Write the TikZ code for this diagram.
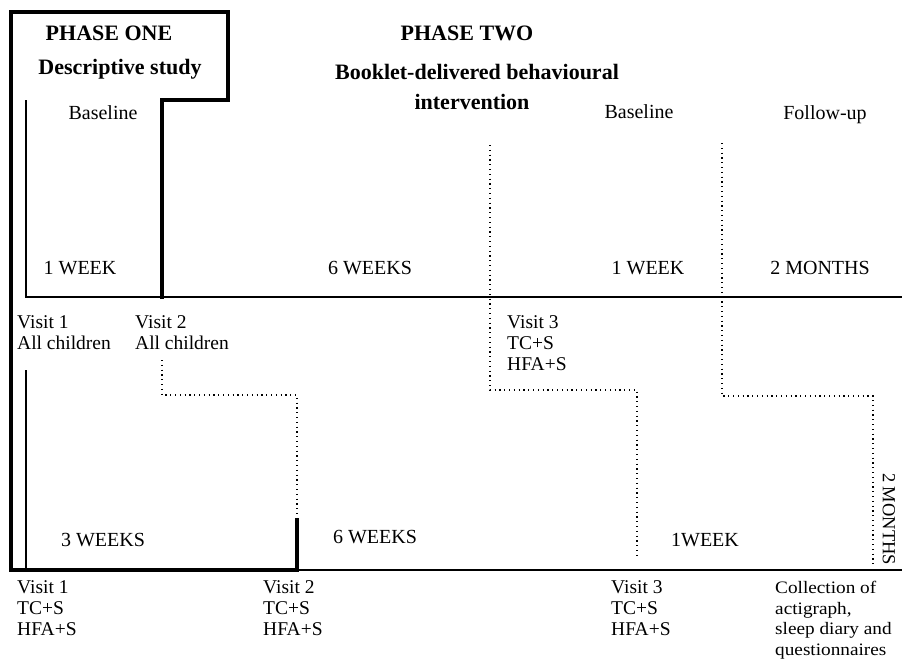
\documentclass[tikz,border=0pt]{standalone}
\usepackage{fontspec}
\setmainfont{Liberation Serif}
\newfontfamily\collfont[FakeStretch=1.1]{Liberation Serif}
\begin{document}
\begin{tikzpicture}[x=1pt,y=-1pt,
  thick line/.style={line width=3.2pt,line cap=rect},
  thin line/.style={line width=1.3pt},
  dot line/.style={line width=1.2pt,dash pattern=on 1.2pt off 3.6pt},
  head/.style={font=\fontsize{22}{26}\selectfont\bfseries,inner sep=0pt},
  lbl/.style={font=\fontsize{20}{21}\selectfont,inner sep=0pt},
  vis/.style={font=\fontsize{19.5}{21}\selectfont,inner sep=0pt,anchor=north west,align=left},
  coll/.style={font=\collfont\fontsize{17.5}{20.5}\selectfont,inner sep=0pt,anchor=north west,align=left}]
\useasboundingbox (0,0) rectangle (902,661);
% corners
\coordinate (tl) at (11,12);
\coordinate (tr) at (228,12);
\coordinate (sr) at (228,100);
\coordinate (sl) at (162,100);
\coordinate (v2top) at (162,297);
\coordinate (bl) at (11,570);
\coordinate (b2) at (297,570);
\coordinate (b2up) at (297,520);
\coordinate (a1) at (26,100);
\coordinate (a2) at (26,297);
\coordinate (tlend) at (902,297);
\coordinate (c1) at (26,370);
\coordinate (c2) at (26,570);
\coordinate (blend) at (902,570);
\coordinate (d1) at (490,145);
\coordinate (d2) at (490,390);
\coordinate (d3) at (637,390);
\coordinate (d4) at (637,556);
\coordinate (e1) at (722,143);
\coordinate (e2) at (722,396);
\coordinate (e3) at (873,396);
\coordinate (e4) at (873,565);
\coordinate (f1) at (162,360);
\coordinate (f2) at (162,395);
\coordinate (f3) at (297,395);
% phase one outline
\draw[thick line] (v2top) -- (sl) -- (sr) -- (tr) -- (tl) -- (bl) -- (b2) -- (b2up);
% timelines
\draw[thin line] (a1) -- (a2) -- (tlend);
\draw[thin line] (c1) -- (c2);
\draw[thin line] (b2) -- (blend);
% dotted steps
\draw[dot line] (d1) -- (d2) -- (d3) -- (d4);
\draw[dot line] (e1) -- (e2) -- (e3) -- (e4);
\draw[dot line] (f1) -- (f2) -- (f3) -- (b2up);
% headings
\node[head] (p1) at (109,33) {PHASE ONE};
\node[head] (p1s) at (120,69) {Descriptive study};
\node[head] (p2) at (467,33) {PHASE TWO};
\node[head] (p2s) at (477,72) {Booklet-delivered behavioural};
\node[head] (p2t) at (472,102) {intervention};
\node[lbl] (bs1) at (103,113) {Baseline};
\node[lbl] (bs2) at (639,112) {Baseline};
\node[lbl] (fu) at (825,115) {Follow-up};
% durations top
\node[lbl] (w1) at (80,268) {1 WEEK};
\node[lbl] (w6) at (370,268) {6 WEEKS};
\node[lbl] (w1b) at (648,268) {1 WEEK};
\node[lbl] (m2) at (820,268) {2 MONTHS};
% visits top
\node[vis] (tv1) at (17,315) {Visit 1\\All children};
\node[vis] (tv2) at (135,315) {Visit 2\\All children};
\node[vis] (tv3) at (507,315) {Visit 3\\TC+S\\HFA+S};
% durations bottom
\node[lbl] (w3) at (103,540) {3 WEEKS};
\node[lbl] (w6b) at (375,537) {6 WEEKS};
\node[lbl] (w1c) at (705,540) {1WEEK};
\node[lbl,font=\fontsize{18.5}{20}\selectfont,rotate=-90] (m2b) at (889,519) {2 MONTHS};
% visits bottom
\node[vis] (bv1) at (17,580) {Visit 1\\TC+S\\HFA+S};
\node[vis] (bv2) at (263,580) {Visit 2\\TC+S\\HFA+S};
\node[vis] (bv3) at (611,580) {Visit 3\\TC+S\\HFA+S};
\node[coll] (col) at (775,581) {Collection of\\actigraph,\\sleep diary and\\questionnaires};
\end{tikzpicture}
\end{document}
